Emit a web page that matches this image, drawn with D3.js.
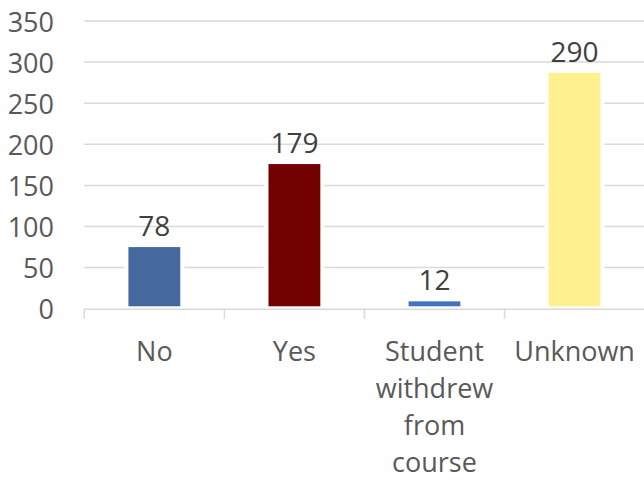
<!DOCTYPE html>
<html><head><meta charset="utf-8">
<script src="https://cdn.jsdelivr.net/npm/d3@7"></script>
<style>body{margin:0;background:#fff}svg{display:block}</style>
</head><body>
<svg id="c" width="644" height="481"></svg>
<script>
const categories = ["No", "Yes", "Student withdrew from course", "Unknown"];
const values = [78, 179, 12, 290];
const barColors = ["#45689F", "#720000", "#4472C4", "#FFF08F"];
const yTicks = [0, 50, 100, 150, 200, 250, 300, 350];

const W = 644, H = 481;
const mLeft = 84.3, mRight = 644.6, mTop = 21, mBottom = 308.7;
const font = "'Open Sans', sans-serif";
const svg = d3.select("#c");

const x = d3.scaleBand().domain(categories).range([mLeft, mRight]).paddingInner(0.63).paddingOuter(0.315);
const band = d3.scaleBand().domain(categories).range([mLeft, mRight]);
const y = d3.scaleLinear().domain([0, 350]).range([mBottom, mTop]);
const inset = 2.5;

// gridlines
svg.append("g").selectAll("line").data(yTicks.filter(d => d > 0)).join("line")
  .attr("x1", mLeft).attr("x2", W).attr("y1", d => y(d)).attr("y2", d => y(d))
  .attr("stroke", "#d9d9d9").attr("stroke-width", 1.5);

// y tick labels
svg.append("g").selectAll("text").data(yTicks).join("text")
  .attr("x", 54).attr("y", d => y(d)).attr("text-anchor", "end")
  .attr("dominant-baseline", "central")
  .attr("font-family", font).attr("font-size", 27).attr("fill", "#595959")
  .text(d => d);

// white halo behind bars
svg.append("g").selectAll("rect").data(values).join("rect")
  .attr("x", (d, i) => x(categories[i]) - 4).attr("width", x.bandwidth() + 8)
  .attr("y", d => y(d) + inset - 4).attr("height", d => mBottom - y(d) - inset + 4)
  .attr("fill", "#fff");

// bars
svg.append("g").selectAll("rect").data(values).join("rect")
  .attr("x", (d, i) => x(categories[i])).attr("width", x.bandwidth())
  .attr("y", d => y(d) + inset).attr("height", d => mBottom - y(d) - inset - 2.4)
  .attr("fill", (d, i) => barColors[i]);

// x axis line and ticks
svg.append("line").attr("x1", mLeft).attr("x2", W).attr("y1", mBottom + 0.5).attr("y2", mBottom + 0.5)
  .attr("stroke", "#d9d9d9").attr("stroke-width", 1.5);
svg.append("g").selectAll("line").data(categories).join("line")
  .attr("x1", d => band(d)).attr("x2", d => band(d))
  .attr("y1", mBottom).attr("y2", mBottom + 10)
  .attr("stroke", "#d9d9d9").attr("stroke-width", 1.5);

// data labels
svg.append("g").selectAll("text").data(values).join("text")
  .attr("x", (d, i) => x(categories[i]) + x.bandwidth() / 2)
  .attr("y", d => y(d) + inset - 11).attr("text-anchor", "middle")
  .attr("font-family", font).attr("font-size", 28).attr("fill", "#404040")
  .text(d => d);

// category labels with wrapping
const lab = svg.append("g").selectAll("text").data(categories).join("text")
  .attr("x", d => band(d) + band.bandwidth() / 2).attr("y", 360.5)
  .attr("text-anchor", "middle")
  .attr("font-family", font).attr("font-size", 27).attr("fill", "#595959");
lab.each(function(d) {
  const t = d3.select(this);
  const words = d.split(" ");
  let line = [], lines = [];
  const probe = t.append("tspan");
  words.forEach(w => {
    const test = line.concat([w]).join(" ");
    probe.text(test);
    if (probe.node().getComputedTextLength() > 130 && line.length) {
      lines.push(line.join(" ")); line = [w];
    } else line.push(w);
  });
  lines.push(line.join(" "));
  probe.remove();
  lines.forEach((l, i) => {
    t.append("tspan").attr("x", band(d) + band.bandwidth() / 2)
      .attr("dy", i === 0 ? 0 : 37.2).text(l);
  });
});
</script>
</body></html>
